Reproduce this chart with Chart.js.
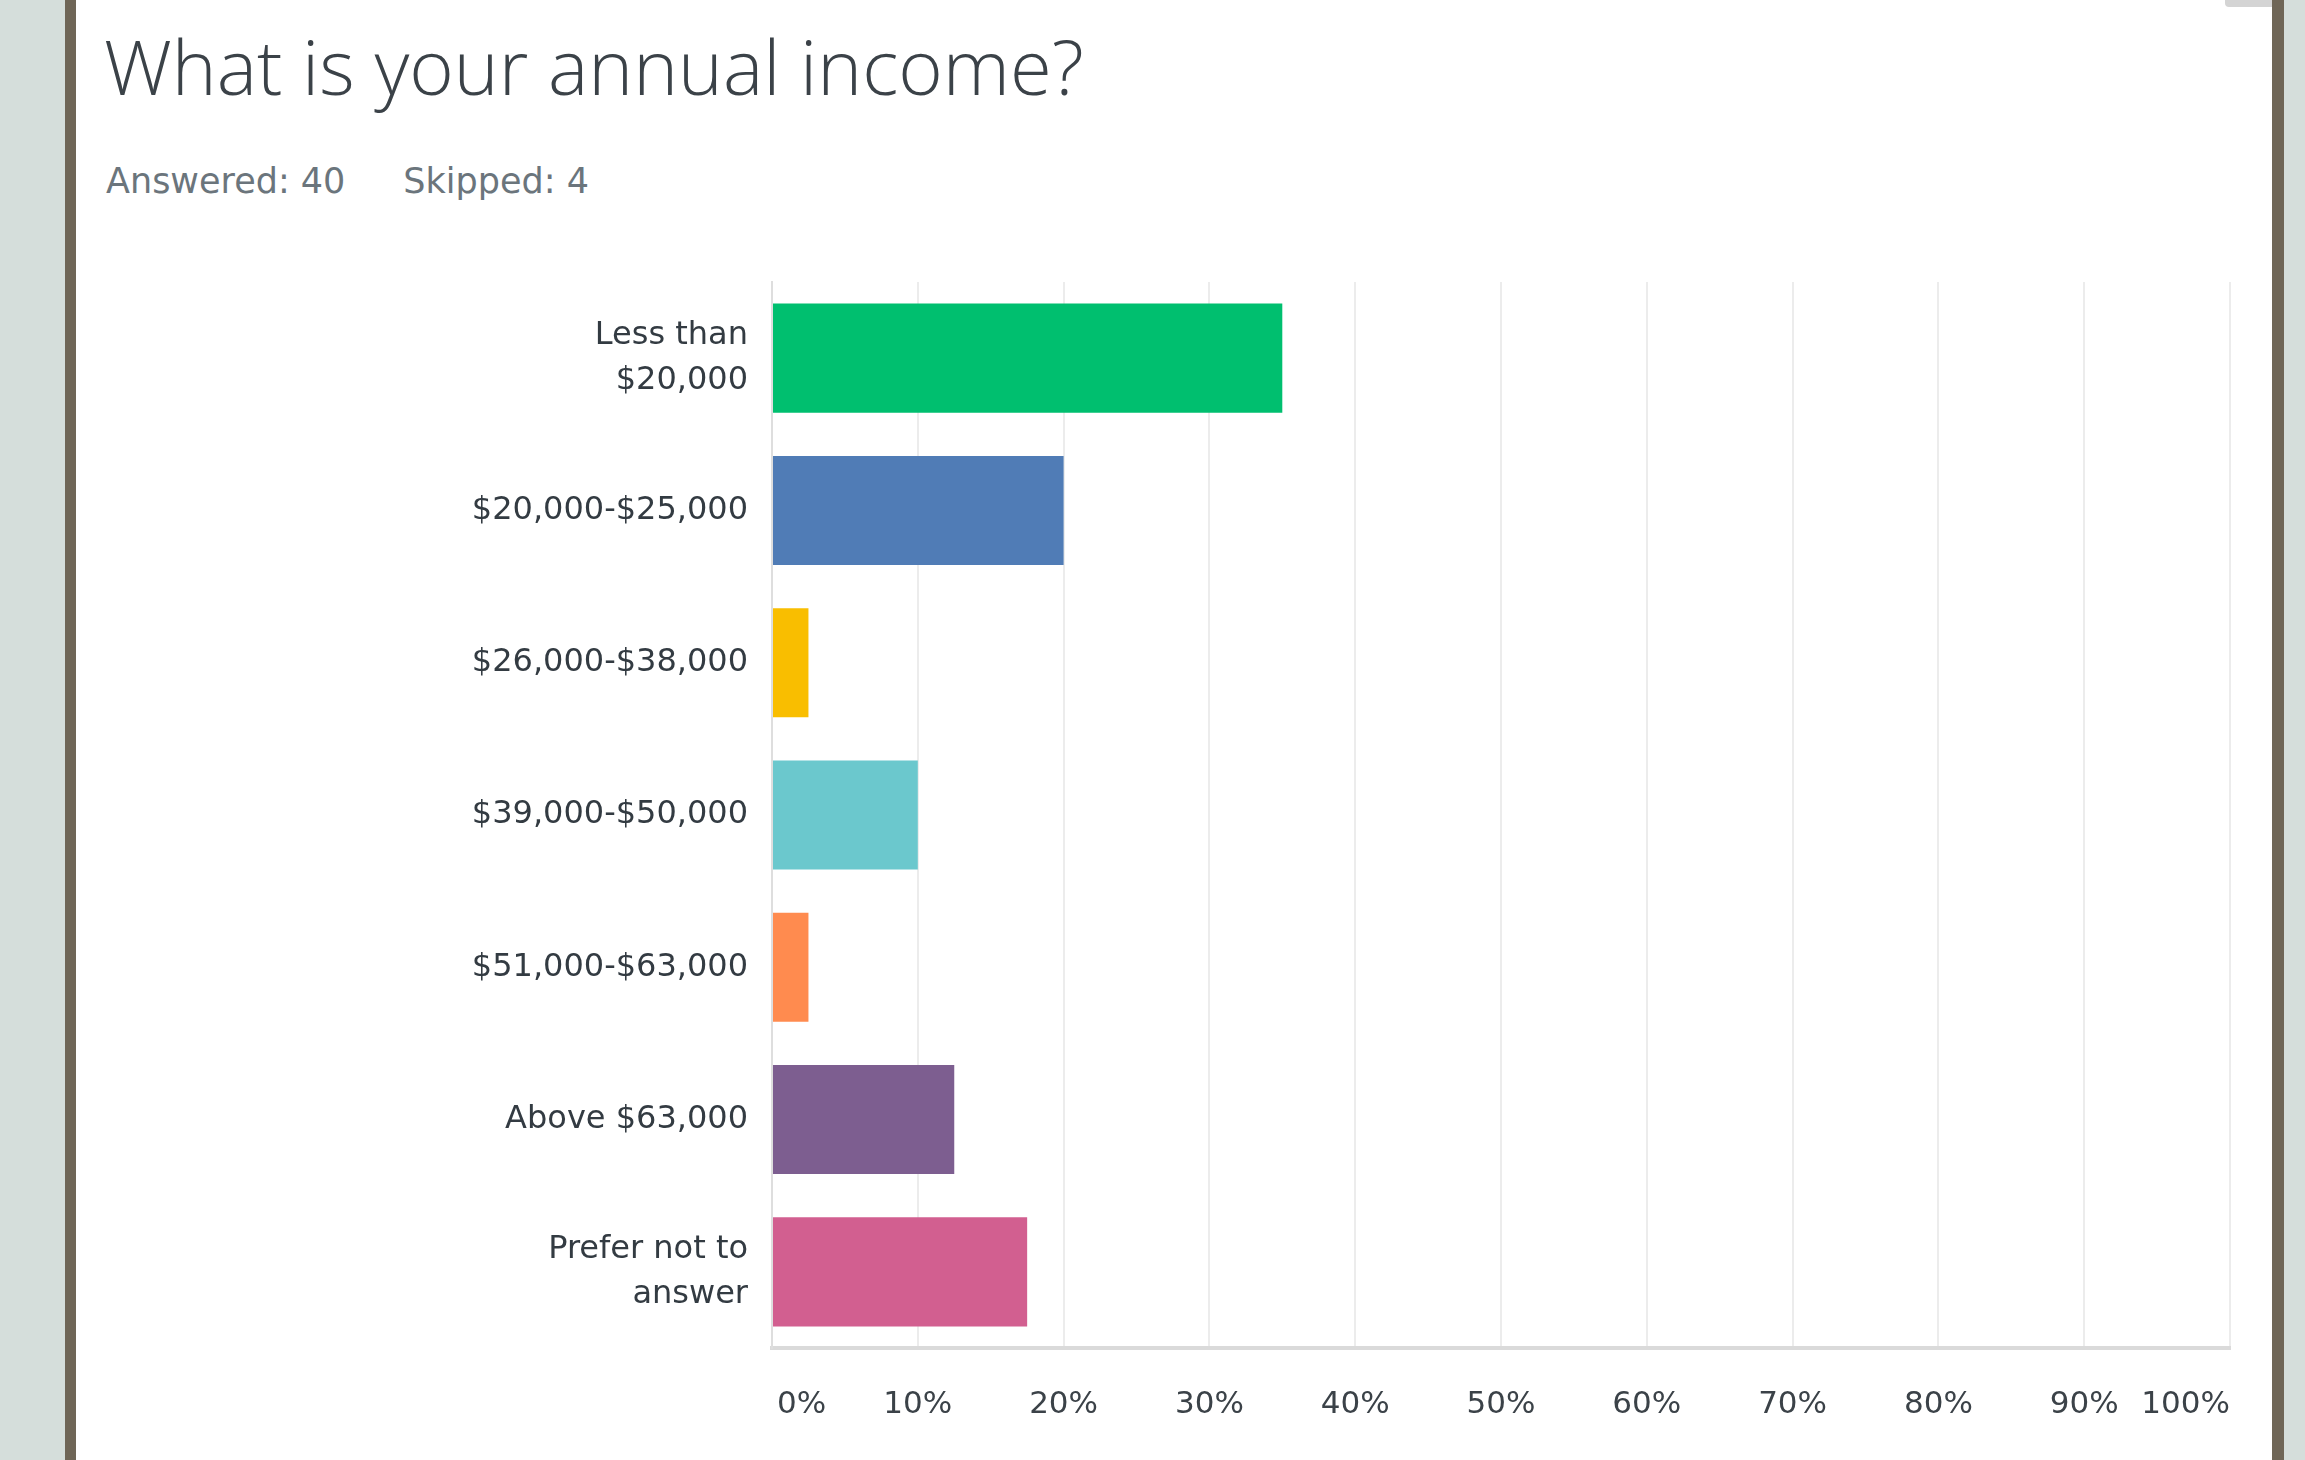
<!DOCTYPE html>
<html>
<head>
<meta charset="utf-8">
<title>What is your annual income?</title>
<script src="https://cdn.jsdelivr.net/npm/chart.js@4"></script>
<style>
  html, body { margin: 0; padding: 0; }
  body {
    width: 2305px; height: 1460px; overflow: hidden;
    background: #d5dedb; position: relative;
  }
  .card {
    position: absolute; left: 65px; top: 0; width: 2196px; height: 1460px;
    background: #ffffff;
    border-left: 11px solid #6f6657; border-right: 12px solid #6f6657;
  }
  .tab {
    position: absolute; left: 2225px; top: 0; width: 47px; height: 7px;
    background: #d4d4d4; border-radius: 0 0 0 4px;
  }
  h1 {
    position: absolute; left: 104px; top: 14px; margin: 0;
    font-family: "Open Sans", sans-serif; font-weight: 300;
    font-size: 76px; color: #3b4248; white-space: nowrap;
  }
  .stats {
    position: absolute; left: 106px; top: 161px;
    font-family: "DejaVu Sans", sans-serif; font-size: 35px;
    color: #6b757c; white-space: nowrap;
  }
  .stats span + span { margin-left: 58px; }
  #chart { position: absolute; left: 400px; top: 260px; }
</style>
</head>
<body>
<div class="card"></div>
<div class="tab"></div>
<h1>What is your annual income?</h1>
<div class="stats"><span>Answered: 40</span><span>Skipped: 4</span></div>
<canvas id="chart" width="1860" height="1200"></canvas>

<script>
// Survey answers, share of respondents per income bracket
const categories = [
    ['Less than', '$20,000'],
    '$20,000-$25,000',
    '$26,000-$38,000',
    '$39,000-$50,000',
    '$51,000-$63,000',
    'Above $63,000',
    ['Prefer not to', 'answer']
];
const percentages = [35, 20, 2.5, 10, 2.5, 12.5, 17.5];
const barColors = ['#00bf6f', '#507cb6', '#f9be00', '#6bc8cd', '#ff8b4f', '#7d5e90', '#d25f90'];
const tickValues = [0, 10, 20, 30, 40, 50, 60, 70, 80, 90, 100];

const ctx = document.getElementById('chart').getContext('2d');

new Chart(ctx, {
    type: 'bar',
    data: {
        labels: categories,
        datasets: [{
            data: percentages,
            backgroundColor: barColors,
            barPercentage: 0.716,
            categoryPercentage: 1
        }]
    },
    options: {
        indexAxis: 'y',
        responsive: false,
        animation: false,
        layout: { padding: { top: 22, right: 30, left: 0, bottom: 0 } },
        plugins: {
            legend: { display: false },
            tooltip: { enabled: false }
        },
        scales: {
            x: {
                min: 0,
                max: 100,
                afterBuildTicks: scale => {
                    scale.ticks = tickValues.map(v => ({ value: v }));
                },
                grid: { color: '#ececec', lineWidth: 2, drawTicks: false },
                border: { color: '#dadada', width: 4 },
                ticks: {
                    color: '#3b4248',
                    font: { family: 'DejaVu Sans', size: 31 },
                    padding: 38,
                    autoSkip: false,
                    maxRotation: 0,
                    minRotation: 0,
                    // first and last labels sit inside the axis ends
                    callback: v => {
                        if (v === 0) return '      0%';
                        if (v === 100) return '100%         ';
                        return v + '%';
                    }
                },
                afterFit: scale => {
                    scale.height = 112;
                    scale.paddingLeft = 0;
                    scale.paddingRight = 0;
                }
            },
            y: {
                grid: { display: false, drawTicks: false },
                border: { color: '#dedede', width: 2 },
                ticks: {
                    color: '#333b42',
                    font: { family: 'DejaVu Sans', size: 32, lineHeight: 1.4 },
                    padding: 24
                },
                afterFit: scale => {
                    scale.width = 372;
                    scale.paddingTop = 0;
                    scale.paddingBottom = 0;
                }
            }
        }
    }
});
</script>
</body>
</html>
